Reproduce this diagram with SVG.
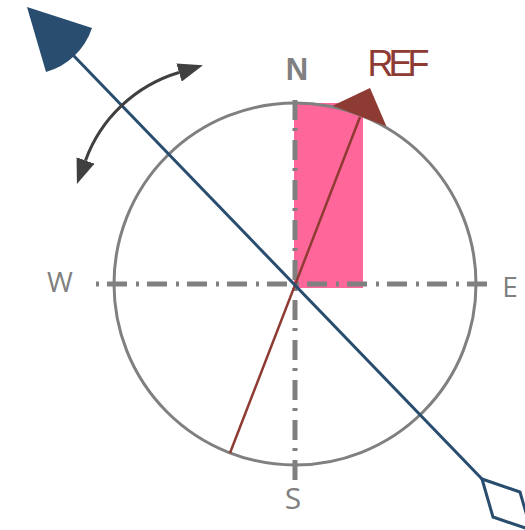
<svg xmlns="http://www.w3.org/2000/svg" width="525" height="530" viewBox="0 0 525 530">
<style>
.gray{stroke:#808080;fill:none}
.axis{stroke:#808080;stroke-width:5;stroke-dasharray:20 8 3 9;fill:none}
.lbl{font-family:"Open Sans","Liberation Sans",sans-serif;fill:#808080;text-anchor:middle}
.blue{stroke:#284d6e;stroke-width:3;fill:none}
.red{stroke:#8e3b34;stroke-width:2.5;fill:none}
</style>
<defs>
<marker id="ah" viewBox="0 0 25 19" refX="0" refY="9.5" markerUnits="userSpaceOnUse" markerWidth="25" markerHeight="19" orient="auto-start-reverse">
<path d="M0,0 L25,9.5 L0,19 Z" fill="#404040"/>
</marker>
</defs>
<rect width="525" height="530" fill="#ffffff"/>
<g id="heading-sector">
<rect x="294" y="103" width="69" height="185" fill="#ff6699"/>
</g>
<g id="compass">
<circle cx="295" cy="284" r="181" class="gray" stroke-width="3"/>
<line x1="295" y1="100" x2="295" y2="480" class="axis"/>
<line x1="487" y1="284" x2="96" y2="284" class="axis"/>
</g>
<g id="labels">
<text x="297" y="80" font-family="Liberation Sans, Arial, sans-serif" fill="#808080" text-anchor="middle" font-size="31" font-weight="bold">N</text>
<text x="60" y="292" class="lbl" font-size="28">W</text>
<text x="510" y="297" class="lbl" font-size="28">E</text>
<text x="293" y="509" class="lbl" font-size="30">S</text>
</g>
<g id="ref">
<line x1="230" y1="453" x2="360" y2="117" class="red"/>
<polygon points="370,88 332.6,105.7 386.4,126.3" fill="#8e3b34"/>
<text x="396" y="76" font-family="Liberation Sans, Arial, sans-serif" font-size="36" fill="#8e3b34" text-anchor="middle" letter-spacing="-5">REF</text>
</g>
<g id="connectors">
<line x1="73" y1="55" x2="482" y2="479" class="blue"/>
<path d="M85.5,160.5 A143,143 0 0,1 179,72.5" stroke="#404040" stroke-width="3" fill="none" marker-start="url(#ah)" marker-end="url(#ah)"/>
</g>
<g id="pointer">
<path d="M27,7 L92,28 A68,68 0 0,1 46,72 Z" fill="#284d6e"/>
<polygon points="482,479 520,492 531,530 493,517" fill="#ffffff" stroke="#284d6e" stroke-width="3" stroke-linejoin="miter"/>
</g>
</svg>
